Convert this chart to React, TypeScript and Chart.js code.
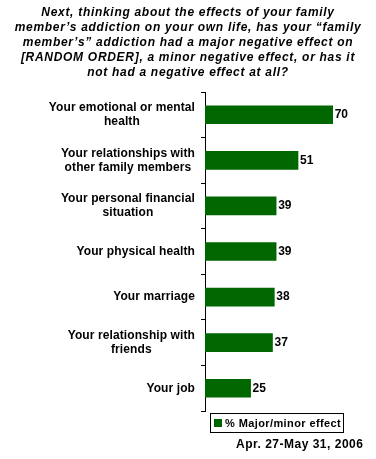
import React, { useEffect, useRef } from "react";
import { Chart, registerables } from "chart.js";

Chart.register(...registerables);

const titleLines: string[] = [
  "Next, thinking about the effects of your family",
  "member\u2019s addiction on your own life, has your \u201cfamily",
  "member\u2019s\u201d addiction had a major negative effect on",
  "[RANDOM ORDER], a minor negative effect, or has it",
  "not had a negative effect at all?",
];

const categories: string[][] = [
  ["Your emotional or mental", "health"],
  ["Your relationships with", "other family members"],
  ["Your personal financial", "situation"],
  ["Your physical health"],
  ["Your marriage"],
  ["Your relationship with", "friends"],
  ["Your job"],
];

const values: number[] = [70, 51, 39, 39, 38, 37, 25];

const seriesName = "% Major/minor effect";
const dateNote = "Apr. 27-May 31, 2006";

const GREEN = "#006600";
const FONT = "'Liberation Sans', Arial, sans-serif";

const decorPlugin = {
  id: "decor",
  afterDraw(chart: any) {
    const ctx = chart.ctx as any;
    const yScale = chart.scales.y;
    const area = chart.chartArea;
    ctx.save();
    // Title
    ctx.fillStyle = "#000";
    ctx.font = `italic bold 12px ${FONT}`;
    ctx.letterSpacing = "0.7px";
    ctx.textAlign = "center";
    ctx.textBaseline = "middle";
    titleLines.forEach((l, i) => ctx.fillText(l, 188, 13 + i * 15));

    // Category labels
    ctx.font = `bold 12px ${FONT}`;
    ctx.letterSpacing = "0.1px";
    const rightEdge = area.left - 10;
    categories.forEach((lines, i) => {
      const yc = yScale.getPixelForValue(i);
      const maxW = Math.max(...lines.map((l: string) => ctx.measureText(l).width));
      const cx = rightEdge - maxW / 2;
      const lh = 14;
      const y0 = yc - ((lines.length - 1) * lh) / 2;
      ctx.textAlign = "center";
      lines.forEach((l, j) => ctx.fillText(l, cx, y0 + j * lh));
    });

    // Value labels
    const meta = chart.getDatasetMeta(0);
    ctx.textAlign = "left";
    ctx.letterSpacing = "0px";
    meta.data.forEach((bar: any, i: number) => {
      ctx.fillText(String(values[i]), bar.x + 2, bar.y);
    });

    // Legend box
    ctx.strokeStyle = "#000";
    ctx.lineWidth = 1;
    ctx.strokeRect(210.5, 413.5, 133, 19);
    ctx.fillStyle = GREEN;
    ctx.fillRect(214, 419, 8, 8);
    ctx.fillStyle = "#000";
    ctx.font = `bold 11px ${FONT}`;
    ctx.letterSpacing = "0.4px";
    ctx.textAlign = "left";
    ctx.fillText(seriesName, 225, 423.5);

    // Date
    ctx.font = `bold 12px ${FONT}`;
    ctx.letterSpacing = "0.5px";
    ctx.textAlign = "left";
    ctx.fillText(dateNote, 236, 445);
    ctx.restore();
  },
};

export default function App() {
  const ref = useRef<HTMLCanvasElement | null>(null);
  useEffect(() => {
    document.body.style.margin = "0";
    const canvas = ref.current!;
    const chart = new Chart(canvas, {
      type: "bar",
      data: {
        labels: categories.map((c) => c.join(" ")),
        datasets: [
          {
            label: seriesName,
            data: values,
            backgroundColor: GREEN,
            barThickness: 18,
          },
        ],
      },
      options: {
        indexAxis: "y",
        animation: false,
        responsive: false,
        devicePixelRatio: 1,
        layout: { padding: { top: 92, bottom: 48, left: 0, right: 10.5 } },
        plugins: {
          legend: { display: false },
          title: { display: false },
          tooltip: { enabled: false },
        },
        scales: {
          x: { display: false, min: 0, max: 88 },
          y: {
            afterFit: (s: any) => {
              s.width = 205;
            },
            ticks: { display: false },
            grid: {
              display: true,
              drawOnChartArea: false,
              drawTicks: true,
              tickLength: 4,
              color: "#000",
              lineWidth: 1,
              offset: true,
            },
            border: { display: true, color: "#000", width: 1 },
          },
        },
      },
      plugins: [decorPlugin],
    });
    return () => chart.destroy();
  }, []);
  return <canvas ref={ref} width={376} height={459} style={{ display: "block" }} />;
}
